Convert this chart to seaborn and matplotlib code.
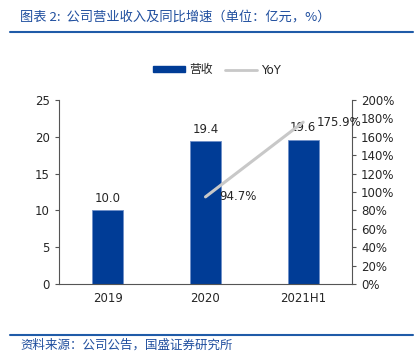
import matplotlib
matplotlib.use("Agg")
import matplotlib.pyplot as plt
import matplotlib.lines as mlines
import matplotlib.patches as mpatches
import seaborn as sns
import pandas as pd

periods = ["2019", "2020", "2021H1"]
revenue = [10.0, 19.4, 19.6]
yoy_periods = ["2020", "2021H1"]
yoy = [94.7, 175.9]

sns.set_style("white")
plt.rcParams["font.family"] = ["DejaVu Sans", "Noto Sans CJK SC"]

bar_color = "#003C96"
line_color = "#C8C8C8"
blue_text = "#1F4E9E"

fig = plt.figure(figsize=(4.2, 3.59), dpi=100)
ax = fig.add_axes([59 / 420, 75 / 359, 293 / 420, 184 / 359])

df = pd.DataFrame({"period": periods, "revenue": revenue})
sns.barplot(data=df, x="period", y="revenue", color=bar_color, width=0.32,
            saturation=1, ax=ax, edgecolor="#6F8FC8", linewidth=0.6)
for i, v in enumerate(revenue):
    ax.annotate(f"{v:.1f}", (i, v), xytext=(0, 4), textcoords="offset points",
                ha="center", va="bottom", fontsize=8.5)

ax.set_xlim(-0.5, 2.5)
ax.set_ylim(0, 25)
ax.set_yticks(range(0, 26, 5))
ax.set_xlabel("")
ax.set_ylabel("")
ax.set_xticks([0, 1, 2])
ax.set_xticklabels(periods)
ax.set_xticks([0.5, 1.5], minor=True)
ax.tick_params(axis="x", which="major", length=0, labelsize=8.5, pad=6)
ax.tick_params(axis="x", which="minor", length=3, direction="in", color="#555555")
ax.tick_params(axis="y", length=3, direction="out", labelsize=8.5, left=True, color="#555555")
for s in ["top", "right"]:
    ax.spines[s].set_visible(False)
for s in ["left", "bottom"]:
    ax.spines[s].set_color("#555555")
    ax.spines[s].set_linewidth(0.8)

ax2 = ax.twinx()
yoy_x = [periods.index(p) for p in yoy_periods]
sns.lineplot(x=yoy_x, y=yoy, color=line_color, linewidth=2.2, ax=ax2)
for x, v in zip(yoy_x, yoy):
    ax2.annotate(f"{v:.1f}%", (x, v), xytext=(10, 0), textcoords="offset points",
                 ha="left", va="center", fontsize=8.5)
ax2.set_ylim(0, 200)
ax2.set_yticks(range(0, 201, 20))
ax2.set_yticklabels([f"{t}%" for t in range(0, 201, 20)])
ax2.tick_params(axis="y", length=3, direction="out", labelsize=8.5, right=True, color="#555555")
for s in ["top", "left", "bottom"]:
    ax2.spines[s].set_visible(False)
ax2.spines["right"].set_color("#555555")
ax2.spines["right"].set_linewidth(0.8)
ax2.set_xlim(-0.5, 2.5)

handles = [mpatches.Rectangle((0, 0), 1, 1, color=bar_color),
           mlines.Line2D([], [], color=line_color, linewidth=2)]
fig.legend(handles, ["营收", "YoY"], loc="center", bbox_to_anchor=(217 / 420, 1 - 70 / 359),
           ncol=2, frameon=False, fontsize=8.5, handlelength=2.7, handleheight=0.45,
           columnspacing=1.1, handletextpad=0.35, borderaxespad=0)

fig.text(20 / 420, 1 - 17 / 359, "图表 2:  公司营业收入及同比增速（单位：亿元，%）",
         fontsize=9.5, color=blue_text, style="italic", va="center", ha="left",
         family=["Noto Sans CJK SC", "DejaVu Sans"])
fig.text(20 / 420, 1 - 345 / 359, "资料来源：公司公告，国盛证券研究所",
         fontsize=9, color=blue_text, style="italic", va="center", ha="left",
         family=["Noto Sans CJK SC", "DejaVu Sans"])
fig.add_artist(mlines.Line2D([10 / 420, 413 / 420], [1 - 32 / 359, 1 - 32 / 359],
                             color="#1F5BA8", linewidth=1.5))
fig.add_artist(mlines.Line2D([10 / 420, 413 / 420], [1 - 335 / 359, 1 - 335 / 359],
                             color="#1F5BA8", linewidth=1.5))

fig.savefig("out.png", dpi=100)
